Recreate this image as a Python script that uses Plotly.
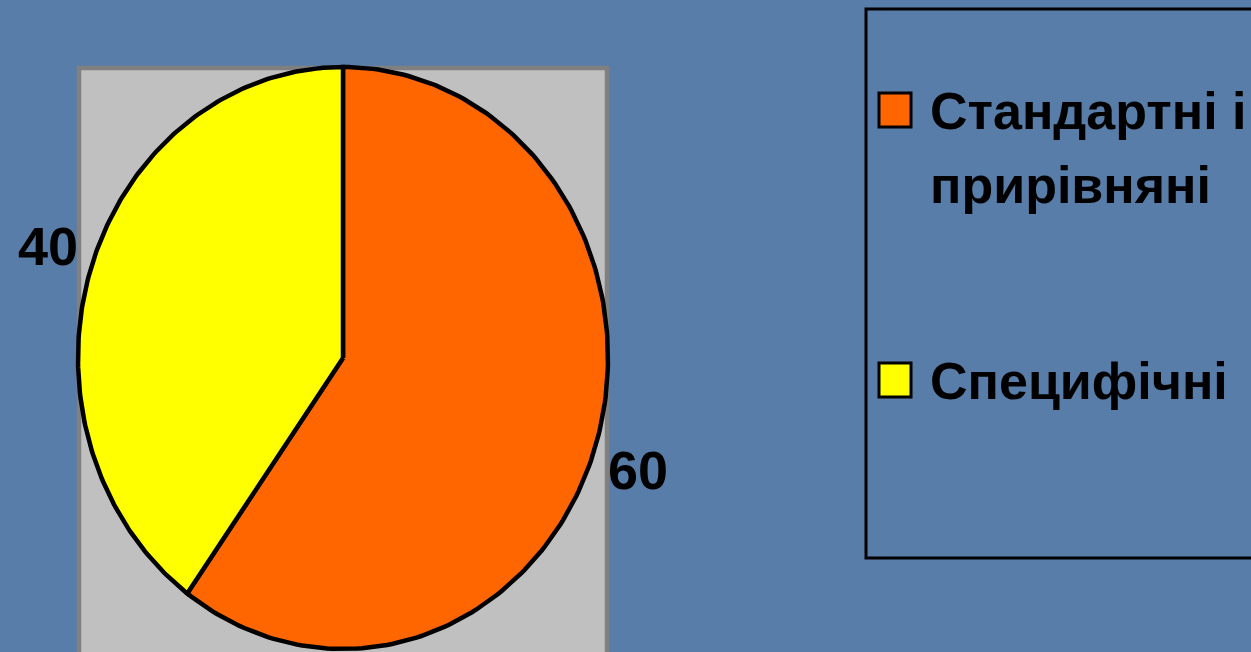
import numpy as np
import plotly.graph_objects as go

# ---- data ----
categories = ["Стандартні і прирівняні", "Специфічні"]
legend_lines = [["Стандартні і", "прирівняні"], ["Специфічні"]]
values = [60, 40]
colors = ["#FF6600", "#FFFF00"]

# ---- layout constants (pixel space) ----
W, H = 1251, 652
cx, cy = 343, 358
rx, ry = 265, 291
FONT = "Liberation Sans Narrow, Arial Narrow, Liberation Sans, Arial"
BG = "#587DA8"

fig = go.Figure()

total = sum(values)
start = 0.0
label_pos = []
for cat, v, col in zip(categories, values, colors):
    a0 = start / total * 2 * np.pi
    a1 = (start + v) / total * 2 * np.pi
    th = np.linspace(a0, a1, 200)
    xs = np.concatenate([[cx], cx + rx * np.sin(th), [cx]])
    ys = np.concatenate([[cy], cy - ry * np.cos(th), [cy]])
    fig.add_trace(go.Scatter(
        x=xs, y=ys, mode="lines", fill="toself", fillcolor=col,
        line=dict(color="black", width=4.5), name=cat, showlegend=False,
        hoverinfo="name"))
    am = (a0 + a1) / 2
    label_pos.append((cx + 1.17 * rx * np.sin(am), cy - 1.25 * ry * np.cos(am), v))
    start += v

for lx, ly, v in label_pos:
    fig.add_annotation(x=lx, y=ly, text=f"<b>{v}</b>", showarrow=False,
                       xanchor="center", yanchor="middle",
                       font=dict(family=FONT, size=54, color="black"))

shapes = [
    # grey plot area
    dict(type="rect", xref="x", yref="y", x0=79, x1=607, y0=68, y1=H + 20,
         fillcolor="#C0C0C0", line=dict(color="#808080", width=4.5), layer="below"),
    # legend box
    dict(type="rect", xref="x", yref="y", x0=866, x1=W + 30, y0=9, y1=558,
         fillcolor="rgba(0,0,0,0)", line=dict(color="black", width=3)),
]
sq = [(92, 128), (362, 398)]
for (y0, y1), col in zip(sq, colors):
    shapes.append(dict(type="rect", xref="x", yref="y", x0=879, x1=911, y0=y0 + 1, y1=y1 - 1,
                       fillcolor=col, line=dict(color="black", width=3)))
fig.update_layout(shapes=shapes)

text_y = [[111, 185], [381]]
for lines, ys in zip(legend_lines, text_y):
    for t, yy in zip(lines, ys):
        fig.add_annotation(x=928, y=yy, text=f"<b>{t}</b>", showarrow=False,
                           xanchor="left", yanchor="middle",
                           font=dict(family=FONT, size=52, color="black"))

fig.update_layout(
    width=W, height=H, margin=dict(l=0, r=0, t=0, b=0),
    paper_bgcolor=BG, plot_bgcolor=BG, showlegend=False,
    xaxis=dict(range=[0, W], visible=False, fixedrange=True),
    yaxis=dict(range=[H, 0], visible=False, fixedrange=True),
)
fig.write_html("out.html", config={"displayModeBar": False},
               post_script="document.body.style.margin='0';document.body.style.overflow='hidden';")
